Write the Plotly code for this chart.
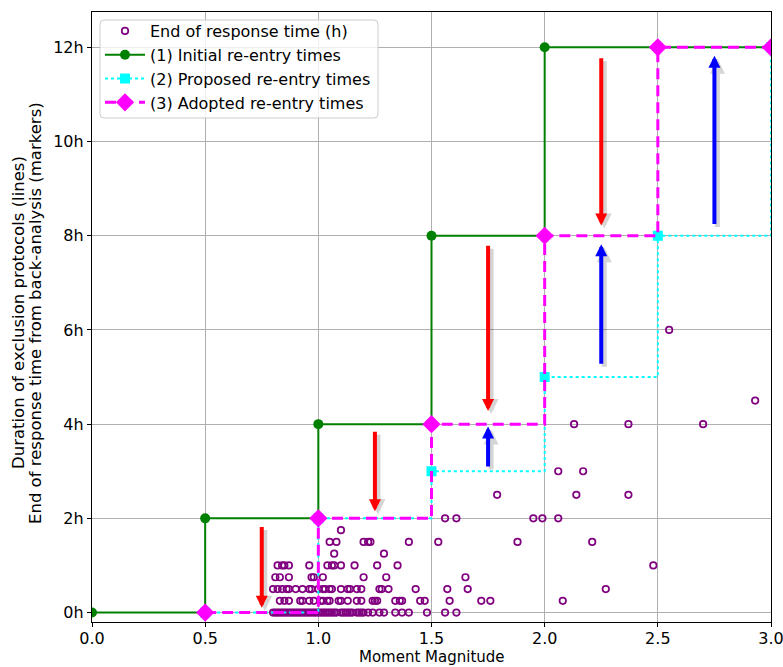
import plotly.graph_objects as go

# ---------------- data ----------------
# back-analysis response end times (hours) vs moment magnitude
resp_mag = [
    # 0 h
    0.80, 0.81, 0.82, 0.83, 0.84, 0.85, 0.86, 0.87, 0.88, 0.89, 0.90, 0.91, 0.92, 0.93,
    0.94, 0.95, 0.96, 0.97, 0.98, 0.99, 1.00, 1.01, 1.02, 1.03, 1.04, 1.05, 1.06, 1.07,
    1.08, 1.10, 1.11, 1.12, 1.13, 1.14, 1.15, 1.17, 1.18, 1.19, 1.20, 1.22, 1.24, 1.27,
    1.29, 1.34, 1.37, 1.40, 1.48, 1.56, 1.61,
    # 0.25 h
    0.83, 0.85, 0.87, 0.92, 0.93, 0.96, 0.98, 1.01, 1.02, 1.04, 1.05, 1.09, 1.10, 1.13,
    1.17, 1.19, 1.24, 1.25, 1.26, 1.34, 1.36, 1.37, 1.45, 1.47, 1.58, 1.72, 1.76, 2.08,
    # 0.5 h
    0.80, 0.82, 0.84, 0.86, 0.87, 0.90, 0.93, 0.96, 0.97, 1.00, 1.02, 1.03, 1.05, 1.06,
    1.10, 1.13, 1.14, 1.17, 1.19, 1.27, 1.28, 1.31, 1.43, 1.57, 1.66, 2.27,
    # 0.75 h
    0.81, 0.83, 0.87, 0.97, 0.98, 1.02, 1.20, 1.30, 1.65,
    # 1.0 h
    0.82, 0.84, 0.85, 0.87, 0.96, 1.04, 1.06, 1.07, 1.10, 1.16, 1.26, 1.35, 2.48,
    # 1.25 h
    1.07, 1.29,
    # 1.5 h
    1.05, 1.08, 1.20, 1.22, 1.23, 1.40, 1.53, 1.88, 2.21,
    # 1.75 h
    1.10,
    # 2 h
    1.56, 1.61, 1.95, 1.99, 2.06,
    # 2.5 h
    1.79, 2.14, 2.37,
    # 3 h
    2.06, 2.17,
    # 4 h
    2.13, 2.37, 2.70,
    # 4.5 h
    2.93,
    # 6 h
    2.55,
]
resp_hours = (
    [0.0] * 49 + [0.25] * 28 + [0.5] * 26 + [0.75] * 9 + [1.0] * 13 + [1.25] * 2
    + [1.5] * 9 + [1.75] * 1 + [2.0] * 5 + [2.5] * 3 + [3.0] * 2 + [4.0] * 3
    + [4.5] * 1 + [6.0] * 1
)

initial_mag = [0.0, 0.5, 1.0, 1.5, 2.0, 3.0]
initial_hours = [0, 2, 4, 8, 12, 12]

proposed_mag = [0.5, 1.0, 1.5, 2.0, 2.5, 3.0]
proposed_hours = [0, 2, 3, 5, 8, 12]

adopted_mag = [0.5, 1.0, 1.5, 2.0, 2.5, 3.0]
adopted_hours = [0, 2, 4, 8, 12, 12]

# arrows: magnitude, tail (h), tip (h), colour
arrow_mag = [0.75, 1.25, 1.75, 2.25, 1.75, 2.25, 2.75]
arrow_from = [1.85, 3.87, 7.82, 11.8, 3.07, 5.25, 8.22]
arrow_to = [0.10, 2.15, 4.28, 8.22, 3.95, 7.82, 11.82]
arrow_color = ["red", "red", "red", "red", "blue", "blue", "blue"]

y_tick_vals = [0, 2, 4, 6, 8, 10, 12]
y_tick_text = ["0h", "2h", "4h", "6h", "8h", "10h", "12h"]
x_tick_vals = [0.0, 0.5, 1.0, 1.5, 2.0, 2.5, 3.0]

x_title = "Moment Magnitude"
y_title_lines = ["Duration of exclusion protocols (lines)",
                 "End of response time from back-analysis (markers)"]

# ---------------- figure ----------------
FONT = "DejaVu Sans"
FS = 16
W, H = 783, 667
ML, MR, MT, MB = 92, 12, 12, 45
PW, PH = W - ML - MR, H - MT - MB


def px2paper(xp, yp):
    return (xp - ML) / PW, (MT + PH - yp) / PH


fig = go.Figure()

fig.add_trace(go.Scatter(
    x=resp_mag, y=resp_hours, mode="markers", name="End of response time (h)",
    marker=dict(symbol="circle-open", size=6.5, color="purple", line=dict(width=1.7, color="purple")),
))
fig.add_trace(go.Scatter(
    x=initial_mag, y=initial_hours, mode="lines+markers", name="(1) Initial re-entry times",
    line=dict(shape="hv", color="green", width=2),
    marker=dict(symbol="circle", size=10, color="green"),
))
fig.add_trace(go.Scatter(
    x=proposed_mag, y=proposed_hours, mode="lines+markers", name="(2) Proposed re-entry times",
    line=dict(shape="hv", color="cyan", width=2, dash="dot"),
    marker=dict(symbol="square", size=10, color="cyan"),
))
fig.add_trace(go.Scatter(
    x=adopted_mag, y=adopted_hours, mode="lines+markers", name="(3) Adopted re-entry times",
    line=dict(shape="hv", color="magenta", width=3, dash="11px,6px"),
    marker=dict(symbol="diamond", size=14, color="magenta"),
))

# arrows with a soft shadow
yr = [-0.2, 12.75]
px_x = 3.0 / PW
px_y = (yr[1] - yr[0]) / PH
for xm, y0, y1, c in zip(arrow_mag, arrow_from, arrow_to, arrow_color):
    fig.add_annotation(
        x=xm + 3 * px_x, y=y1 - 3 * px_y, ax=xm + 3 * px_x, ay=y0 - 3 * px_y,
        xref="x", yref="y", axref="x", ayref="y", text="", showarrow=True,
        arrowhead=2, arrowsize=0.6, arrowwidth=5, arrowcolor="rgba(0,0,0,0.16)", standoff=0,
    )
for xm, y0, y1, c in zip(arrow_mag, arrow_from, arrow_to, arrow_color):
    fig.add_annotation(
        x=xm, y=y1, ax=xm, ay=y0,
        xref="x", yref="y", axref="x", ayref="y", text="", showarrow=True,
        arrowhead=2, arrowsize=0.6, arrowwidth=4, arrowcolor=c, standoff=0,
    )

# axis titles as free text
tx, ty = px2paper(0, 667)
fig.add_annotation(
    x=0.5, y=ty, xref="paper", yref="paper",
    text=x_title, showarrow=False, xanchor="center", yanchor="bottom",
    font=dict(family=FONT, size=15, color="black"), borderpad=0,
)
for xpx, line in zip([18, 35], y_title_lines):
    ax_, ay_ = px2paper(xpx, 313)
    fig.add_annotation(
        x=ax_, y=ay_, xref="paper", yref="paper",
        text=line, showarrow=False, textangle=-90, xanchor="center", yanchor="middle",
        font=dict(family=FONT, size=FS + 0.5, color="black"),
    )

# legend frame (rounded, semi-opaque white, above the data)
x0, y0 = px2paper(100, 118)
x1, y1 = px2paper(378, 20)
rx, ry = 4 / PW, 4 / PH
frame_path = (
    f"M{x0 + rx},{y0} L{x1 - rx},{y0} Q{x1},{y0} {x1},{y0 + ry} "
    f"L{x1},{y1 - ry} Q{x1},{y1} {x1 - rx},{y1} "
    f"L{x0 + rx},{y1} Q{x0},{y1} {x0},{y1 - ry} "
    f"L{x0},{y0 + ry} Q{x0},{y0} {x0 + rx},{y0} Z"
)
fig.add_shape(
    type="path", path=frame_path, xref="paper", yref="paper", layer="above",
    fillcolor="rgba(255,255,255,0.8)", line=dict(color="#cccccc", width=1),
)

axis_common = dict(
    showline=True, linecolor="black", linewidth=1.2, mirror=True,
    ticks="outside", ticklen=4, tickcolor="black", tickwidth=1,
    showgrid=True, gridcolor="#b0b0b0", gridwidth=0.8, zeroline=False,
    tickfont=dict(family=FONT, size=FS, color="black"), automargin=False,
    ticklabeloverflow="allow",
)

fig.update_xaxes(range=[0, 3], tickvals=x_tick_vals, tickformat=".1f",
                 ticklabelstandoff=-2, **axis_common)
fig.update_yaxes(range=yr, tickvals=y_tick_vals, ticktext=y_tick_text, **axis_common)

lx, ly = px2paper(100, 14)
fig.update_layout(
    width=W, height=H,
    margin=dict(l=ML, r=MR, t=MT, b=MB, autoexpand=False),
    plot_bgcolor="white", paper_bgcolor="white",
    font=dict(family=FONT, size=FS, color="black"),
    showlegend=True,
    legend=dict(
        x=lx, y=ly, xanchor="left", yanchor="top",
        bgcolor="rgba(0,0,0,0)", borderwidth=0,
        font=dict(family=FONT, size=FS, color="black"),
        tracegroupgap=0, itemwidth=40,
    ),
)

fig.write_html("out.html")
